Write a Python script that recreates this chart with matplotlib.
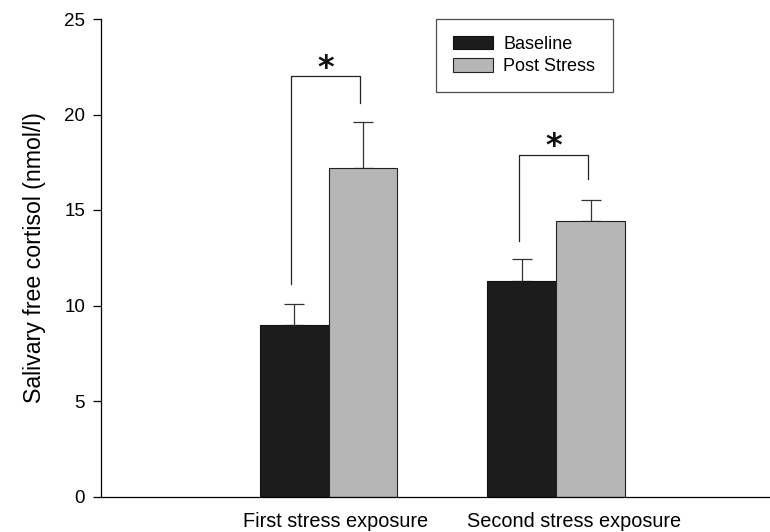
import matplotlib
matplotlib.use("Agg")
import matplotlib.pyplot as plt
import numpy as np

plt.rcParams['font.family'] = ['Liberation Sans', 'DejaVu Sans']

groups = ["First stress exposure", "Second stress exposure"]
series = ["Baseline", "Post Stress"]
baseline = [9.0, 11.3]
baseline_err = [1.1, 1.15]
post = [17.2, 14.4]
post_err = [2.4, 1.1]
# significance brackets: (left-leg bottom, top, right-leg bottom)
brackets = [(11.1, 22.0, 20.6), (13.4, 17.9, 16.6)]
yticks = [0, 5, 10, 15, 20, 25]

fig = plt.figure(figsize=(7.70, 5.32), dpi=100)
ax = fig.add_axes([101/770, 1-496.5/532, 1-101/770, (496.5-19)/532])

x = np.array([1.0, 2.0])
w = 0.303
ax.bar(x - w/2, baseline, w, color='#1c1c1c', edgecolor='#111111', linewidth=0.8,
       label=series[0], zorder=2)
ax.bar(x + w/2, post, w, color='#b6b6b6', edgecolor='#222222', linewidth=0.8,
       label=series[1], zorder=2)
ax.errorbar(x - w/2, baseline, yerr=[np.zeros(2), baseline_err], fmt='none',
            ecolor='#333333', elinewidth=0.9, capsize=7.5, capthick=0.9, zorder=1)
ax.errorbar(x + w/2, post, yerr=[np.zeros(2), post_err], fmt='none',
            ecolor='#333333', elinewidth=0.9, capsize=7.5, capthick=0.9, zorder=1)

off = -0.012
for xi, (lb, top, rb) in zip(x, brackets):
    xl = xi - w/2 + off
    xr = xi + w/2 + off
    ax.plot([xl, xl, xr, xr], [lb, top, top, rb], color='#222222', lw=0.9)
    ax.text((xl + xr)/2, top + 0.42, '*', ha='center', va='center', fontsize=23,
            fontweight='bold', family='DejaVu Sans', color='#111111')

ax.set_xlim(0, 2.94)
ax.set_ylim(0, 25)
ax.set_yticks(yticks)
ax.set_yticklabels([str(t) for t in yticks], fontsize=13.5)
ax.tick_params(axis='y', length=5.5, width=0.9, pad=6)
ax.set_xticks(x + np.array([0.03, 0.08]))
ax.set_xticklabels(groups, fontsize=14.3)
ax.tick_params(axis='x', length=0, pad=11)
for s in ['top', 'right']:
    ax.spines[s].set_visible(False)
ax.spines['left'].set_linewidth(0.9)
ax.spines['bottom'].set_linewidth(0.9)
ax.set_ylabel("Salivary free cortisol (nmol/l)", fontsize=16.7, labelpad=13)

leg = ax.legend(loc='upper left', bbox_to_anchor=((435.7-101)/669, 1.0), fontsize=13,
                frameon=True, fancybox=False, edgecolor='#222222', handlelength=2.2,
                handleheight=0.75, borderpad=0.95, labelspacing=0.28, handletextpad=0.6,
                borderaxespad=0)
leg.get_frame().set_linewidth(0.9)

fig.savefig("out.png", dpi=100)
